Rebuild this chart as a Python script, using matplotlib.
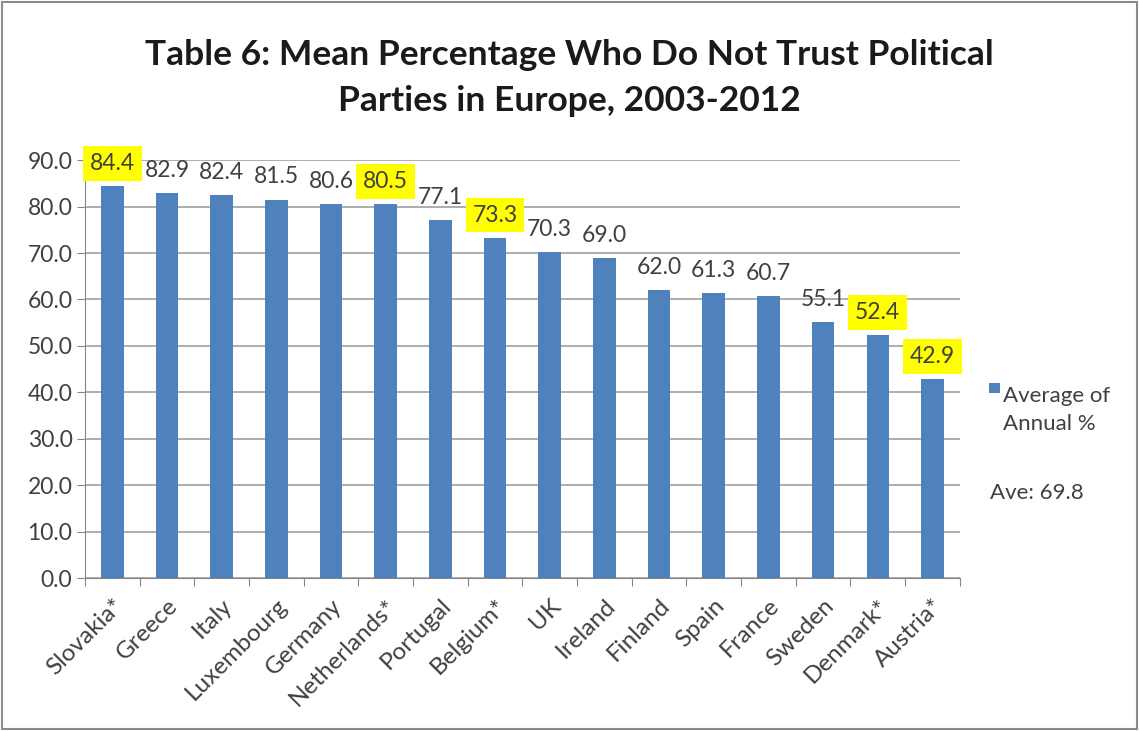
import matplotlib.pyplot as plt
from matplotlib.patches import Rectangle

plt.rcParams["font.family"] = ["Lato", "DejaVu Sans"]

countries = ["Slovakia*", "Greece", "Italy", "Luxembourg", "Germany", "Netherlands*",
             "Portugal", "Belgium*", "UK", "Ireland", "Finland", "Spain", "France",
             "Sweden", "Denmark*", "Austria*"]
values = [84.4, 82.9, 82.4, 81.5, 80.6, 80.5, 77.1, 73.3, 70.3, 69.0, 62.0, 61.3,
          60.7, 55.1, 52.4, 42.9]
highlighted = ["Slovakia*", "Netherlands*", "Belgium*", "Denmark*", "Austria*"]
series_name = "Average of\nAnnual %"
average_note = "Ave: 69.8"

bar_color = "#4F81BD"
text_color = "#404040"

fig = plt.figure(figsize=(11.39, 7.31), dpi=100)
ax = fig.add_axes([0.0746, 0.209, 0.768, 0.572])

x = range(len(countries))
ax.bar(x, values, width=0.41, color=bar_color, zorder=3)

for i, (name, v) in enumerate(zip(countries, values)):
    box = None
    if name in highlighted:
        box = dict(boxstyle="square,pad=0.3", facecolor="#FFFF00", edgecolor="none")
    ax.text(i, v + 2.6, f"{v:.1f}", ha="center", va="bottom", fontsize=16.5,
            color=text_color, bbox=box, zorder=4)

ax.set_ylim(0, 90)
ax.set_yticks(range(0, 91, 10))
ax.set_yticklabels([f"{t:.1f}" for t in range(0, 91, 10)], fontsize=16.5, color=text_color)
ax.set_xlim(-0.5, len(countries) - 0.5)
ax.set_xticks([i - 0.5 for i in range(len(countries) + 1)], minor=False)
ax.set_xticklabels([])
ax.set_xticks(list(x), minor=True)
ax.set_xticklabels(countries, minor=True, rotation=45, ha="right", rotation_mode="anchor",
                   fontsize=17.5, color=text_color)
ax.tick_params(axis="x", which="minor", length=0, pad=12)
ax.tick_params(axis="x", which="major", length=6, color="#868686")
ax.tick_params(axis="y", length=6, color="#868686", pad=3)

ax.grid(axis="y", color="#A0A0A0", linewidth=1.2, zorder=0)
for side in ["top", "right"]:
    ax.spines[side].set_visible(False)
for side in ["left", "bottom"]:
    ax.spines[side].set_color("#868686")

fig.text(0.5, 0.893, "Table 6: Mean Percentage Who Do Not Trust Political\nParties in Europe, 2003-2012",
         ha="center", va="center", fontsize=25.5, fontweight="bold", color="#1a1a1a",
         linespacing=1.55)

# legend and average note
fig.patches.append(Rectangle((0.8685, 0.462), 0.0095, 0.0145, transform=fig.transFigure,
                             facecolor=bar_color, edgecolor="none"))
fig.text(0.881, 0.4715, series_name, ha="left", va="top", fontsize=16,
         color=text_color, linespacing=1.45)
fig.text(0.91, 0.326, average_note, ha="center", va="center", fontsize=16,
         color=text_color)

fig.patches.append(Rectangle((0.002, 0.003), 0.996, 0.994, transform=fig.transFigure,
                             facecolor="none", edgecolor="#8C8C8C", linewidth=1.5))

fig.savefig("out.png", dpi=100)
